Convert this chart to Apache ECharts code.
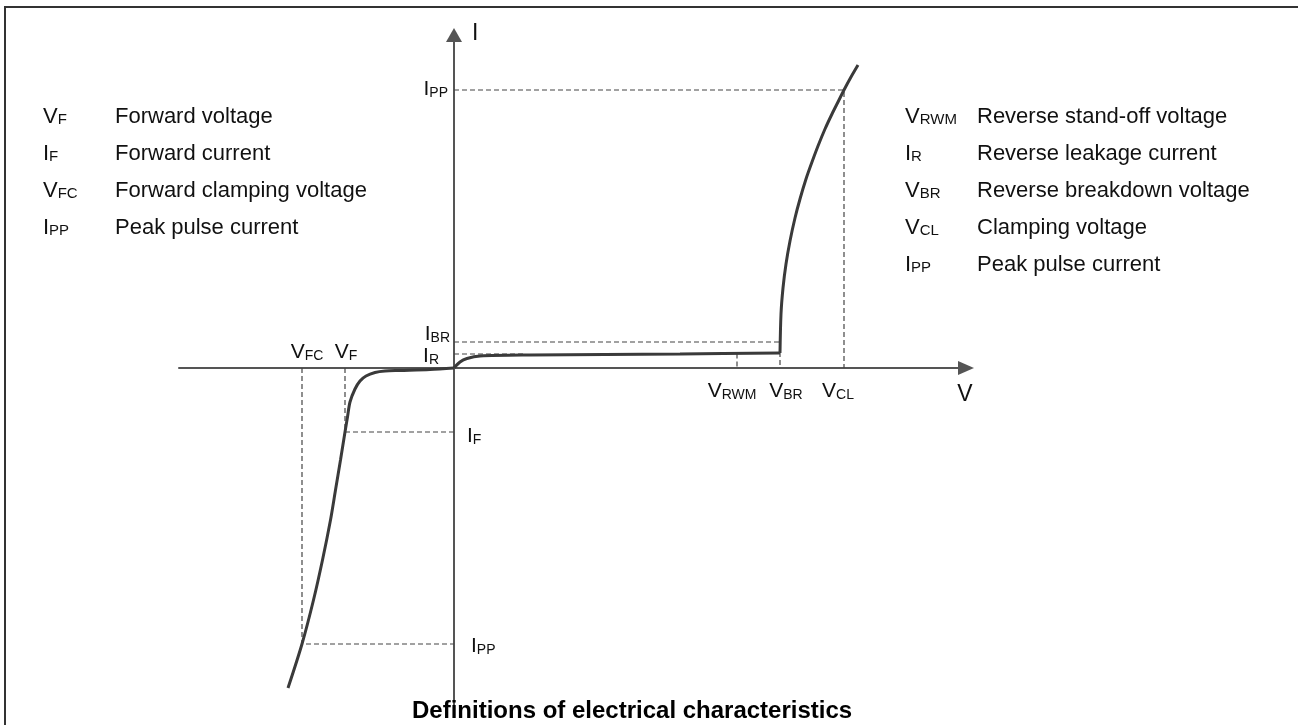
<!DOCTYPE html>
<html><head><meta charset="utf-8">
<script src="https://cdn.jsdelivr.net/npm/echarts@6/dist/echarts.min.js"></script>
<style>html,body{margin:0;padding:0;background:#fff}#c{width:1298px;height:725px}</style>
</head><body><div id="c"></div>
<script>
// Schematic I-V characteristic of a TVS diode (arbitrary units)
const forwardV = [0, -2.4, -5.4, -6.9, -7.9, -8.8, -9.4, -9.9, -10.4, -10.65, -10.9, -11.35, -11.85, -12.35, -13.15, -14.05, -15.2, -16.6];
const forwardI = [0, -0.15, -0.25, -0.3, -0.45, -0.8, -1.3, -2.1, -3.4, -4.9, -6.4, -9.2, -12.2, -15.2, -19.2, -23.2, -27.6, -32.0];
const leakageV = [0, 0.6, 1.3, 2.6, 7.6, 22.6, 32.6];
const leakageI = [0, 0.6, 0.95, 1.2, 1.3, 1.4, 1.5];
const breakdownV = [32.6, 32.7, 32.9, 33.2, 33.6, 34.1, 34.6, 35.2, 35.8, 36.4, 37.1, 37.8, 38.4, 39.0, 39.7, 40.4];
const breakdownI = [1.5, 5.4, 8.0, 10.4, 12.7, 15.0, 16.9, 18.9, 20.6, 22.2, 23.9, 25.4, 26.6, 27.8, 29.1, 30.3];

// marker values: V_FC, V_F, V_RWM, V_BR, V_CL
const voltageMarks = [-15.2, -10.9, 28.3, 32.6, 39.0];
// marker values: I_PP(+), I_BR, I_R, I_F, I_PP(-)
const currentMarks = [27.8, 2.6, 1.4, -6.4, -27.6];

const leftSymbols = [['V', 'F'], ['I', 'F'], ['V', 'FC'], ['I', 'PP']];
const leftDescriptions = ['Forward voltage', 'Forward current', 'Forward clamping voltage', 'Peak pulse current'];
const rightSymbols = [['V', 'RWM'], ['I', 'R'], ['V', 'BR'], ['V', 'CL'], ['I', 'PP']];
const rightDescriptions = ['Reverse stand-off voltage', 'Reverse leakage current', 'Reverse breakdown voltage', 'Clamping voltage', 'Peak pulse current'];

const axisRange = { vMin: -27.5, vMax: 51.2, iMin: -34.4, iMax: 33.3 };
const titleText = 'Definitions of electrical characteristics';

const FONT = '"Liberation Sans", Arial, Helvetica, sans-serif';
const zip = (a, b) => a.map((v, i) => [v, b[i]]);
const [VFC, VF, VRWM, VBR, VCL] = voltageMarks;
const [IPP1, IBR, IR, IF, IPP2] = currentMarks;

const dashSeg = (pts) => ({
  type: 'line', data: pts, showSymbol: false, symbol: 'none', silent: true, z: 1,
  lineStyle: { color: '#444', width: 1.2, type: [5, 3] }
});
const curve = (pts) => ({
  type: 'line', data: pts, showSymbol: false, symbol: 'none', smooth: 0.3, silent: true, z: 3,
  lineStyle: { color: '#3a3a3a', width: 3 }
});

const chart = echarts.init(document.getElementById('c'), null, { renderer: 'canvas' });
chart.setOption({
  animation: false,
  backgroundColor: '#fff',
  grid: { left: 179, right: 332, top: 35, bottom: 13 },
  xAxis: {
    type: 'value', min: axisRange.vMin, max: axisRange.vMax,
    axisLine: { onZero: true, symbol: ['none', 'triangle'], symbolSize: [14, 16], lineStyle: { color: '#555', width: 2 } },
    axisTick: { show: false }, axisLabel: { show: false }, splitLine: { show: false }
  },
  yAxis: {
    type: 'value', min: axisRange.iMin, max: axisRange.iMax,
    axisLine: { onZero: true, symbol: ['none', 'triangle'], symbolSize: [16, 14], lineStyle: { color: '#555', width: 2 } },
    axisTick: { show: false }, axisLabel: { show: false }, splitLine: { show: false }
  },
  series: [
    dashSeg([[0, IPP1], [VCL, IPP1], [VCL, 0]]),
    dashSeg([[0, IBR], [VBR, IBR], [VBR, 0]]),
    dashSeg([[0, IR], [7, IR]]),
    dashSeg([[VRWM, 1.45], [VRWM, 0]]),
    dashSeg([[VF, 0], [VF, IF], [0, IF]]),
    dashSeg([[VFC, 0], [VFC, IPP2], [0, IPP2]]),
    curve(zip(forwardV, forwardI)),
    curve(zip(leakageV, leakageI)),
    curve(zip(breakdownV, breakdownI))
  ]
});

const mkRich = (big, small) => ({
  m: { fontSize: big, lineHeight: big + 3, verticalAlign: 'bottom', fontFamily: FONT, fill: '#111' },
  s: { fontSize: small, lineHeight: small + 3, verticalAlign: 'bottom', fontFamily: FONT, fill: '#111' },
  d: { fontSize: big, lineHeight: big + 3, verticalAlign: 'bottom', fontFamily: FONT, fill: '#111' }
});
const labelRich = mkRich(21, 14);
const legendRich = mkRich(22, 15);
const sym = (p) => '{m|' + p[0] + '}{s|' + p[1] + '}';
const txt = (x, y, text, align, rich) => ({
  type: 'text', x, y, silent: true, z: 100,
  style: { text, rich: rich || labelRich, align: align || 'center', verticalAlign: 'middle', font: '21px ' + FONT, fill: '#111' }
});
const px = (v, i) => chart.convertToPixel({ gridIndex: 0 }, [v, i]);

const g = [];
// frame
g.push({ type: 'rect', shape: { x: 5, y: 7, width: 1310, height: 740 }, style: { fill: 'none', stroke: '#333', lineWidth: 2 }, silent: true });
// axis names
const o = px(0, 0);
g.push({ type: 'text', x: o[0] + 18, y: 34, style: { text: 'I', font: '23px ' + FONT, fill: '#111', verticalAlign: 'middle' }, silent: true });
g.push({ type: 'text', x: 965, y: o[1] + 27, style: { text: 'V', font: '23px ' + FONT, fill: '#111', align: 'center', verticalAlign: 'middle' }, silent: true });
// voltage labels
g.push(txt(px(VFC, 0)[0] + 5, o[1] - 17, sym(['V', 'FC'])));
g.push(txt(px(VF, 0)[0] + 1, o[1] - 17, sym(['V', 'F'])));
g.push(txt(px(VRWM, 0)[0] - 5, o[1] + 22, sym(['V', 'RWM'])));
g.push(txt(px(VBR, 0)[0] + 6, o[1] + 22, sym(['V', 'BR'])));
g.push(txt(px(VCL, 0)[0] - 6, o[1] + 22, sym(['V', 'CL'])));
// current labels
g.push(txt(o[0] - 6, px(0, IPP1)[1] - 2, sym(['I', 'PP']), 'right'));
g.push(txt(o[0] - 4, px(0, IBR)[1] - 9, sym(['I', 'BR']), 'right'));
g.push(txt(o[0] - 15, px(0, IR)[1] + 1, sym(['I', 'R']), 'right'));
g.push(txt(o[0] + 13, px(0, IF)[1] + 3, sym(['I', 'F']), 'left'));
g.push(txt(o[0] + 17, px(0, IPP2)[1] + 1, sym(['I', 'PP']), 'left'));
// legends
const rowY = (k) => 115 + k * 37;
leftSymbols.forEach((s, k) => {
  g.push(txt(43, rowY(k), sym(s), 'left', legendRich));
  g.push(txt(115, rowY(k), '{d|' + leftDescriptions[k] + '}', 'left', legendRich));
});
rightSymbols.forEach((s, k) => {
  g.push(txt(905, rowY(k), sym(s), 'left', legendRich));
  g.push(txt(977, rowY(k), '{d|' + rightDescriptions[k] + '}', 'left', legendRich));
});
// title
g.push({ type: 'text', x: 412, y: 711, z: 100, silent: true,
  style: { text: titleText, font: 'bold 24px ' + FONT, fill: '#000', verticalAlign: 'middle' } });

chart.setOption({ graphic: { elements: g } });
</script>
</body></html>
